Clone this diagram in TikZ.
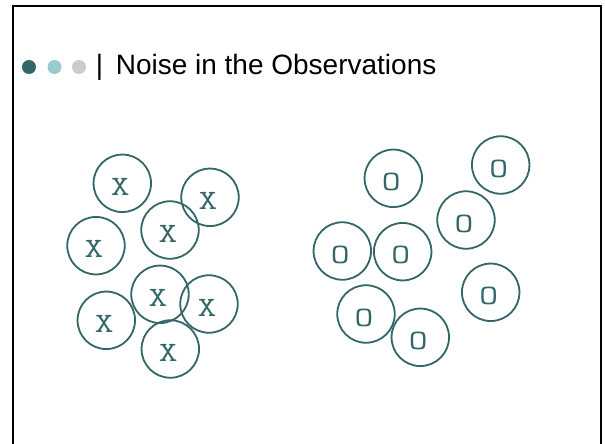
\documentclass[tikz,border=0pt]{standalone}
\usepackage{fontspec}
\setmainfont{Liberation Sans}
\newfontfamily\labfont[FakeStretch=1.3]{Latin Modern Mono}
\definecolor{teal1}{RGB}{51,102,102}
\definecolor{teal2}{RGB}{153,204,204}
\definecolor{grey1}{RGB}{204,204,204}
\begin{document}
\begin{tikzpicture}[x=1pt,y=-1pt,
  pt/.style={circle,draw=teal1,line width=1.8pt,minimum size=57.5pt,inner sep=0pt},
  lab/.style={inner sep=0pt,text=teal1,font=\labfont\fontsize{28}{30}\selectfont},
  dot/.style={circle,inner sep=0pt,minimum size=14pt},
  ttl/.style={inner sep=0pt,anchor=base west,font=\fontsize{28}{30}\selectfont}]
\useasboundingbox (0,0) rectangle (605,444);
\fill[white] (0,0) rectangle (605,444);
% frame
\coordinate (fbl) at (12.5,445);
\coordinate (ftl) at (12.5,6);
\coordinate (ftr) at (601,6);
\coordinate (fbr) at (601,445);
\draw[line width=2pt] (fbl) -- (ftl) -- (ftr) -- (fbr);
% title
\node[dot,fill=teal1] (d1) at (29,67) {};
\node[dot,fill=teal2] (d2) at (54.5,67) {};
\node[dot,fill=grey1] (d3) at (79,67) {};
\node[ttl] (bar) at (95.7,74.3) {|};
\node[ttl] (title) at (115.6,74.3) {Noise in the Observations};
% X cluster
\foreach \n/\x/\y in {x1/122.3/183.3, x2/210/197.3, x3/170/230, x4/96/245.7,
  x5/160/294.3, x6/209/304, x7/106.3/320.3, x8/170.3/349}{
  \node[pt] (\n) at (\x,\y) {};
  \node[lab] (\n l) at ([shift={(-2,3.5)}]\n.center) {X};
}
% O cluster
\foreach \n/\x/\y in {o1/393.3/178.3, o2/500.7/165, o3/466/220, o4/342.3/251,
  o5/402.7/251.7, o6/490.7/292.3, o7/366/314, o8/420.3/337.3}{
  \node[pt] (\n) at (\x,\y) {};
  \node[lab] (\n l) at ([shift={(-2,3.5)}]\n.center) {O};
}
\end{tikzpicture}
\end{document}
